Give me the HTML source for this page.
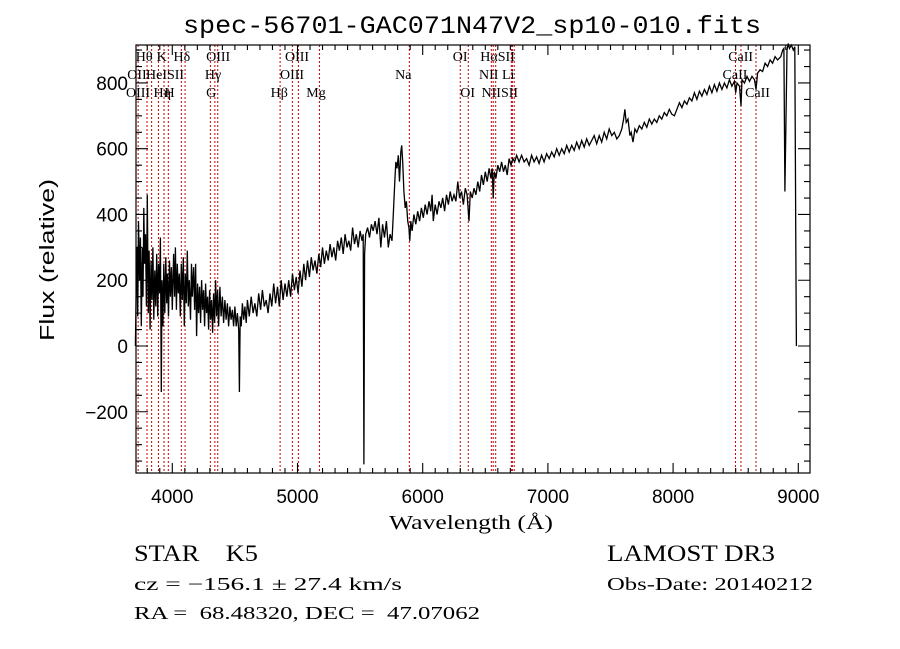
<!DOCTYPE html>
<html><head><meta charset="utf-8"><style>
html,body{margin:0;padding:0;background:#fff;}
svg{display:block;}
text{fill:#000;}
</style></head><body>
<svg id="chart" width="900" height="649" viewBox="0 0 900 649" xmlns="http://www.w3.org/2000/svg">
<rect x="0" y="0" width="900" height="649" fill="#fff"/>
<text x="472" y="33" font-family="Liberation Mono, monospace" font-size="25" text-anchor="middle" textLength="578" lengthAdjust="spacingAndGlyphs">spec-56701-GAC071N47V2_sp10-010.fits</text>
<g id="lines"></g>
<g id="series"></g>
<g id="axes"></g>
<g id="labels" font-family="Liberation Serif, serif" font-size="14"></g>
<text x="471" y="529" font-family="Liberation Serif, serif" font-size="20" text-anchor="middle" textLength="164" lengthAdjust="spacingAndGlyphs">Wavelength (Å)</text>
<text transform="translate(54,260) rotate(-90)" font-family="Liberation Sans, sans-serif" font-size="20" text-anchor="middle" textLength="162" lengthAdjust="spacingAndGlyphs">Flux (relative)</text>
<text x="134" y="561" font-family="Liberation Serif, serif" font-size="23" textLength="124" lengthAdjust="spacingAndGlyphs" xml:space="preserve">STAR    K5</text>
<text x="607" y="561" font-family="Liberation Serif, serif" font-size="23" textLength="168" lengthAdjust="spacingAndGlyphs">LAMOST DR3</text>
<text x="134" y="590" font-family="Liberation Serif, serif" font-size="18" textLength="268" lengthAdjust="spacingAndGlyphs">cz = −156.1 ± 27.4 km/s</text>
<text x="607" y="590" font-family="Liberation Serif, serif" font-size="18" textLength="206" lengthAdjust="spacingAndGlyphs">Obs-Date: 20140212</text>
<text x="134" y="619" font-family="Liberation Serif, serif" font-size="18" textLength="346" lengthAdjust="spacingAndGlyphs" xml:space="preserve">RA =  68.48320, DEC =  47.07062</text>
</svg>
<script>
const waves = [3705,3712,3718,3724,3730,3738,3745,3752,3760,3766,3772,3779,3786,3793,3800,3808,3815,3823,3830,3838,3845,3852,3860,3868,3875,3883,3890,3898,3905,3912,3918,3925,3932,3940,3948,3955,3962,3970,3978,3985,3993,4000,4010,4018,4025,4033,4040,4048,4056,4064,4072,4080,4088,4096,4104,4112,4120,4128,4136,4145,4153,4160,4170,4178,4186,4194,4202,4210,4218,4226,4234,4242,4250,4258,4266,4274,4282,4290,4298,4306,4314,4322,4330,4338,4346,4354,4362,4370,4380,4390,4400,4410,4420,4430,4440,4450,4460,4470,4480,4490,4500,4510,4520,4530,4536,4542,4550,4560,4570,4580,4590,4600,4615,4630,4645,4660,4675,4690,4705,4720,4735,4750,4765,4780,4795,4810,4825,4840,4855,4870,4885,4900,4915,4930,4945,4960,4975,4990,5005,5020,5035,5050,5065,5080,5095,5110,5125,5140,5155,5170,5185,5200,5215,5230,5245,5260,5275,5290,5305,5320,5335,5350,5365,5380,5395,5410,5425,5440,5455,5470,5485,5500,5515,5525,5530,5536,5545,5560,5575,5590,5605,5620,5635,5650,5665,5680,5695,5710,5725,5740,5755,5765,5775,5785,5795,5805,5815,5825,5832,5840,5850,5860,5870,5880,5890,5897,5905,5915,5930,5945,5960,5975,5990,6005,6020,6035,6050,6065,6075,6085,6100,6115,6130,6145,6160,6175,6190,6205,6220,6235,6250,6265,6280,6295,6310,6325,6340,6355,6370,6380,6395,6410,6425,6440,6455,6470,6485,6500,6515,6530,6545,6555,6563,6572,6585,6600,6615,6630,6645,6660,6675,6690,6705,6720,6735,6750,6770,6790,6810,6830,6850,6870,6890,6910,6930,6950,6970,6990,7010,7030,7050,7070,7090,7110,7130,7150,7170,7190,7210,7230,7250,7270,7290,7310,7330,7350,7370,7390,7410,7430,7450,7470,7490,7510,7530,7550,7570,7590,7605,7615,7625,7640,7655,7665,7680,7695,7710,7730,7750,7770,7790,7810,7830,7850,7870,7890,7910,7930,7950,7970,7990,8010,8030,8050,8070,8090,8110,8130,8150,8170,8190,8210,8230,8250,8270,8290,8310,8330,8350,8370,8390,8410,8430,8450,8470,8490,8500,8510,8530,8542,8550,8570,8590,8610,8630,8650,8662,8675,8695,8715,8735,8755,8775,8795,8815,8835,8860,8875,8885,8893,8900,8910,8920,8930,8945,8960,8972,8978,8982,8985];
const fluxes = [0,170,300,90,380,200,330,60,300,150,420,250,340,120,460,100,290,50,260,140,300,80,230,120,280,90,250,160,330,-140,200,60,250,100,270,130,220,90,260,150,240,110,280,150,300,110,250,160,220,90,250,140,270,60,220,130,290,120,200,80,250,150,240,110,250,30,190,100,180,70,200,110,170,60,190,100,150,50,170,80,140,40,160,70,200,90,170,60,180,90,150,70,140,80,130,60,120,80,110,60,120,60,100,50,-140,90,60,130,80,120,70,140,90,150,100,130,90,160,110,170,120,140,100,160,120,190,130,180,120,200,140,190,150,200,150,220,170,210,160,230,180,250,200,260,210,270,230,260,220,280,240,300,250,290,260,310,270,300,260,320,290,330,280,340,300,320,290,360,310,340,300,350,320,340,-360,280,340,360,330,370,350,380,340,390,300,370,330,380,300,340,320,400,480,560,540,580,500,590,610,560,470,420,440,380,360,320,380,350,400,370,410,380,420,390,430,400,440,410,460,380,430,400,440,420,450,410,460,430,470,440,460,440,500,450,470,430,480,460,380,470,450,480,460,500,470,520,490,530,500,540,510,540,450,530,510,550,530,560,530,550,520,570,550,570,560,580,560,580,560,570,550,580,560,575,555,580,560,585,570,590,575,600,580,600,585,610,590,610,595,620,600,625,605,630,610,625,640,615,640,620,650,630,660,640,650,630,640,660,690,720,680,690,640,650,620,660,650,670,660,680,665,690,675,690,680,700,690,710,700,720,705,700,720,740,725,745,735,755,745,770,750,775,760,780,765,790,770,795,775,800,780,800,785,810,790,805,770,800,790,730,810,800,820,805,820,810,780,830,840,835,860,850,870,860,880,870,880,900,905,470,650,900,920,905,915,900,910,500,200,0];
const lineWaves = [3727,3798,3835,3889,3934,3968,4072,4102,4304,4340,4363,4861,4959,5007,5175,5893,6300,6364,6548,6563,6583,6708,6716,6731,8498,8542,8662];
const labelTexts = ["Hθ","K","Hδ","OIII","OIII","OI","HαSII","CaII","OII","HeISII","Hγ","OIII","Na","NII Li","CaII","OIII","Hη","H","G","Hβ","Mg","OI","NIISII","CaII"];
const labelWaves = [3708,3875,4010,4270,4900,6240,6460,8440,3640,3790,4260,4860,5780,6450,8395,3630,3850,3938,4270,4785,5070,6300,6470,8575];
const labelRows = [0,0,0,0,0,0,0,0,1,1,1,1,1,1,1,2,2,2,2,2,2,2,2,2];
const xTicks = [4000,5000,6000,7000,8000,9000];
const yTicks = [-200,0,200,400,600,800];

const L=136,R=810,T=45,B=473;
const xs = w => 172.3 + (w-4000)*0.1252;
const ys = v => 346 - v*0.3288;
const NS="http://www.w3.org/2000/svg";
function mk(tag,attrs,parent){const e=document.createElementNS(NS,tag);for(const k in attrs)e.setAttribute(k,attrs[k]);parent.appendChild(e);return e;}

const gl=document.getElementById('lines');
lineWaves.forEach(w=>{
  const l=mk('line',{x1:xs(w),x2:xs(w),y1:T,y2:B,stroke:'#c00000','stroke-width':1,'stroke-dasharray':'2,2'},gl);
  
  
});

const gs=document.getElementById('series');
let d='';
waves.forEach((w,i)=>{d+=(i?'L':'M')+xs(w).toFixed(1)+','+ys(fluxes[i]).toFixed(1);});
const p=mk('path',{d:d,fill:'none',stroke:'#000','stroke-width':1.3,'stroke-linejoin':'miter'},gs);



const ga=document.getElementById('axes');
const frame=mk('rect',{x:L,y:T,width:R-L,height:B-T,fill:'none',stroke:'#000','stroke-width':1.2},ga);


let td='';
for(let w=3800;w<=9050;w+=100){const x=xs(w);if(x<L||x>R)continue;const len=(w%1000===0)?10:5;td+=`M${x},${B}V${B-len}M${x},${T}V${T+len}`;}
for(let v=-350;v<=900;v+=50){const y=ys(v);if(y<T||y>B)continue;const len=(v%200===0)?12:6;td+=`M${L},${y}H${L+len}M${R},${y}H${R-len}`;}
const tk=mk('path',{d:td,stroke:'#000','stroke-width':1.1,fill:'none'},ga);


xTicks.forEach(w=>{
  const t=mk('text',{x:xs(w),y:503,'font-family':'Liberation Sans, sans-serif','font-size':19,'text-anchor':'middle'},ga);
  t.textContent=String(w);
  
  
});
yTicks.forEach(v=>{
  const t=mk('text',{x:128,y:ys(v)+7,'font-family':'Liberation Sans, sans-serif','font-size':19,'text-anchor':'end'},ga);
  t.textContent=(v<0?'−':'')+Math.abs(v);
  
  
});

const glab=document.getElementById('labels');
const rowY=[61,79,97];
labelTexts.forEach((s,i)=>{
  const t=mk('text',{x:xs(labelWaves[i]),y:rowY[labelRows[i]]},glab);
  t.textContent=s;
  
  
});
</script>
</body></html>
